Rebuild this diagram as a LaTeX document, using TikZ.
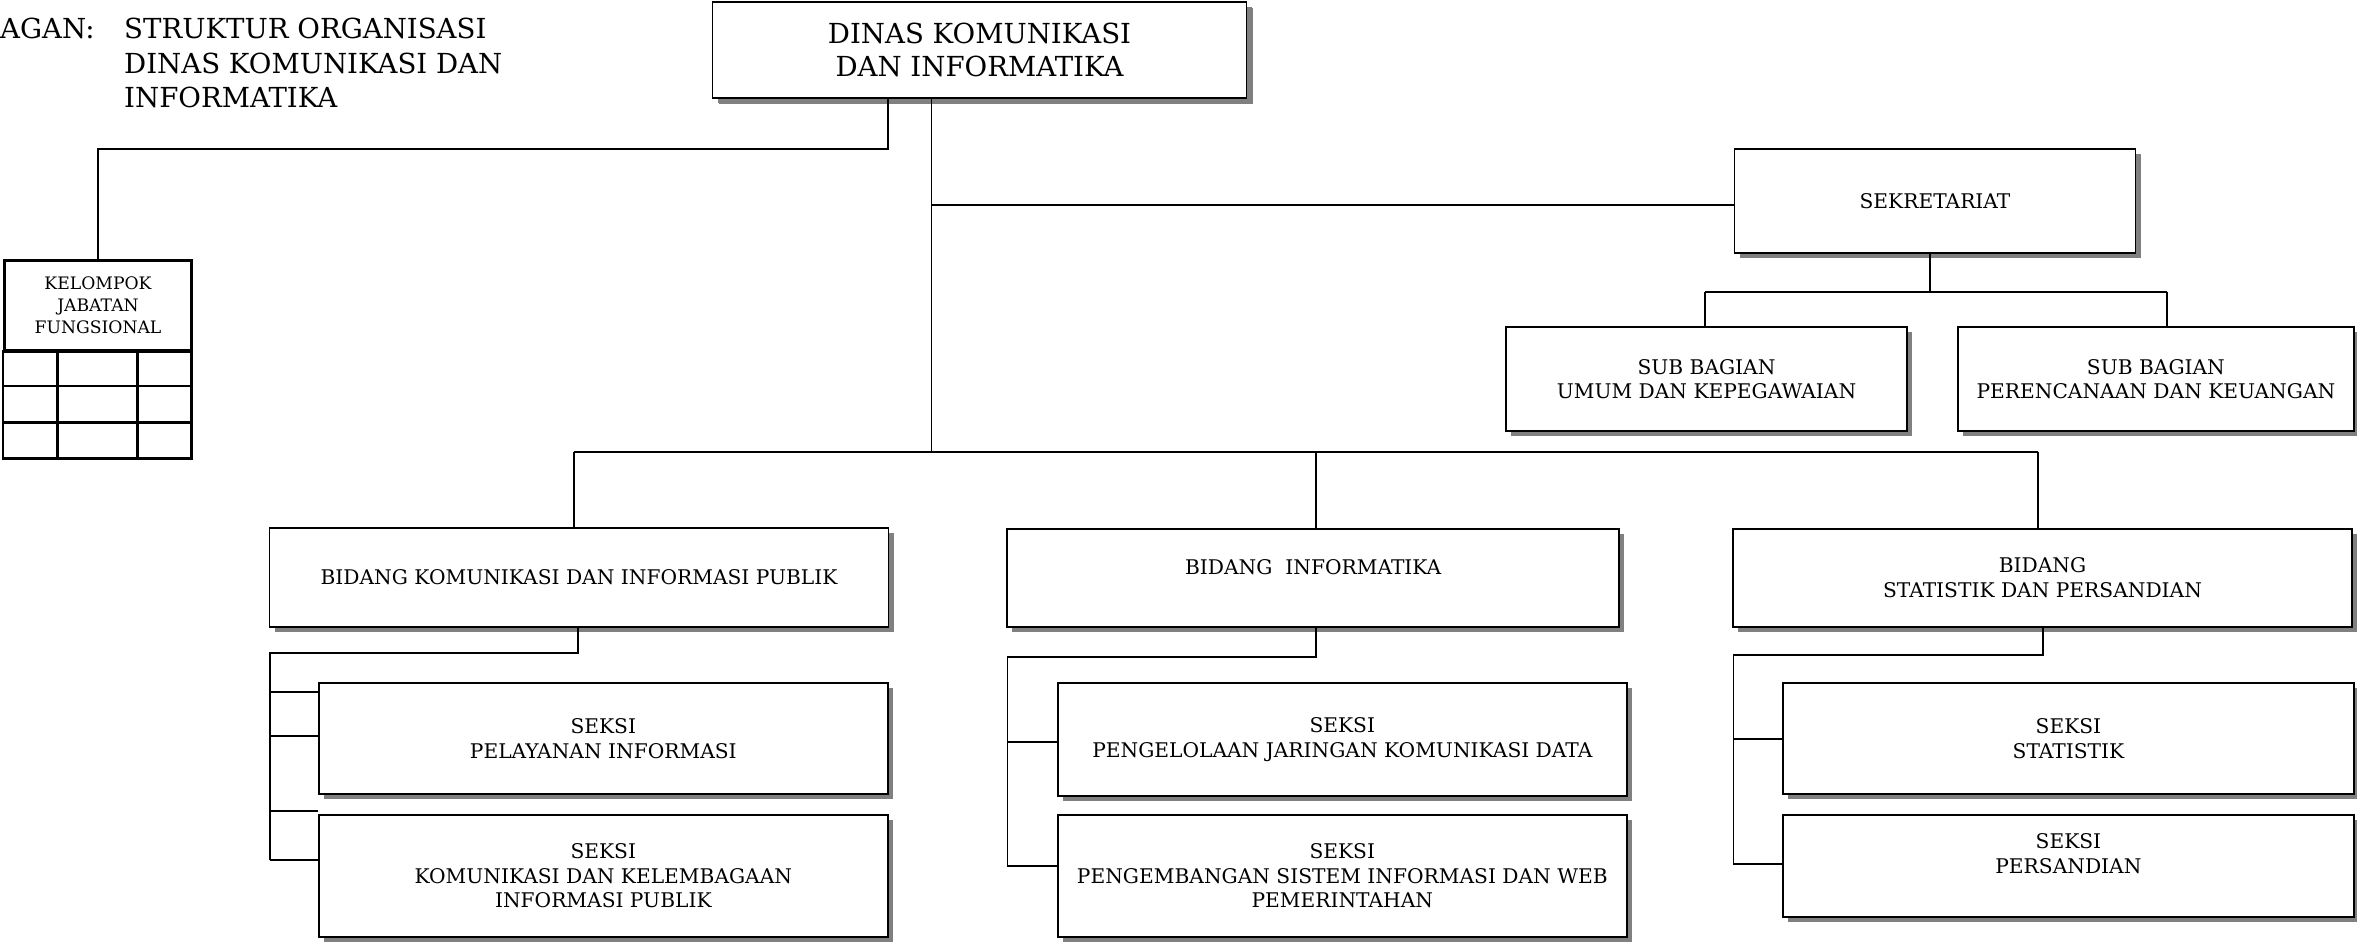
\documentclass[tikz,border=0pt]{standalone}
\usepackage{fontspec}
\setmainfont{DejaVu Serif}
\usetikzlibrary{shadows}
\begin{document}
\begin{tikzpicture}[x=1pt,y=-1pt,
  orgbox/.style={draw, line width=1.9pt, fill=white, inner sep=0pt, align=center,
    font=\fontsize{20.2}{24.5}\selectfont,
    drop shadow={shadow xshift=5pt,shadow yshift=-5pt,fill=black!50,opacity=1}},
  bigfont/.style={font=\fontsize{27.6}{34.5}\selectfont},
  conn/.style={line width=1.7pt},
  gridline/.style={line width=2.6pt}]
\useasboundingbox (0,0) rectangle (2357,943);

% title
\node[bigfont, anchor=west, inner sep=0pt] (bagan) at (0,28) {AGAN:};
\node[bigfont, anchor=west, inner sep=0pt, align=left] (title) at (124,63)
  {STRUKTUR ORGANISASI\\DINAS KOMUNIKASI DAN\\INFORMATIKA};

% boxes
\node[orgbox, font=\fontsize{27.6}{33.3}\selectfont, minimum width=534pt, minimum height=96.6pt,
  drop shadow={shadow xshift=6pt,shadow yshift=-6pt,fill=black!50,opacity=1}] (top) at (979.5,50)
  {DINAS KOMUNIKASI\\DAN INFORMATIKA};
\node[orgbox, minimum width=401pt, minimum height=103.4pt] (sekr) at (1935,201)
  {\raisebox{-4pt}{SEKRETARIAT}};
\node[orgbox, minimum width=400.4pt, minimum height=103.7pt] (subumum) at (1706.5,379.2)
  {SUB BAGIAN\\UMUM DAN KEPEGAWAIAN};
\node[orgbox, minimum width=395.4pt, minimum height=103.7pt] (subren) at (2155.9,379.2)
  {SUB BAGIAN\\PERENCANAAN DAN KEUANGAN};

\node[orgbox, minimum width=619pt, minimum height=98.4pt] (bkip) at (579,577.5)
  {BIDANG KOMUNIKASI DAN INFORMASI PUBLIK};
\node[orgbox, minimum width=611.6pt, minimum height=97.7pt] (binf) at (1313.2,577.8)
  {\raisebox{-3pt}{BIDANG\ \ INFORMATIKA}\\\mbox{}};
\node[orgbox, minimum width=618.3pt, minimum height=97.7pt] (bstat) at (2042.5,577.8)
  {\raisebox{-3pt}{BIDANG}\\\raisebox{-3pt}{STATISTIK DAN PERSANDIAN}};

\node[orgbox, minimum width=569.4pt, minimum height=110.7pt] (s1) at (603.3,738.7)
  {SEKSI\\PELAYANAN INFORMASI};
\node[orgbox, minimum width=569.4pt, minimum height=121.7pt] (s2) at (603.3,875.8)
  {SEKSI\\KOMUNIKASI DAN KELEMBAGAAN\\INFORMASI PUBLIK};
\node[orgbox, minimum width=569.4pt, minimum height=112.4pt] (s3) at (1342.3,739.5)
  {SEKSI\\PENGELOLAAN JARINGAN KOMUNIKASI DATA};
\node[orgbox, minimum width=569.4pt, minimum height=121.7pt] (s4) at (1342.3,875.8)
  {SEKSI\\PENGEMBANGAN SISTEM INFORMASI DAN WEB\\PEMERINTAHAN};
\node[orgbox, minimum width=570.8pt, minimum height=110.7pt] (s5) at (2068.4,738.7)
  {SEKSI\\STATISTIK};
\node[orgbox, minimum width=570.8pt, minimum height=101.7pt] (s6) at (2068.4,865.8)
  {SEKSI\\PERSANDIAN\\\mbox{}};

% kelompok jabatan fungsional
\node[draw, line width=2.6pt, inner sep=0pt, align=center, minimum width=187.4pt, minimum height=89.3pt,
  font=\fontsize{17.2}{21.7}\selectfont] (kel) at (98,305.3)
  {KELOMPOK\\JABATAN\\FUNGSIONAL};
\coordinate (kgbr) at (191.7,458.3);
\draw[gridline] (kel.south west) rectangle (kgbr);
\draw[gridline] (kel.west |- 0,386) -- (kel.east |- 0,386);
\draw[gridline] (kel.west |- 0,422.7) -- (kel.east |- 0,422.7);
\draw[gridline] (57.7,350) -- (57.7,458.3);
\draw[gridline] (137.7,350) -- (137.7,458.3);

% connectors from top
\coordinate (cL) at (888,149);
\draw[conn] (top.south -| cL) -- (cL) -| (kel.north);
\coordinate (tA) at (931.5,205);
\coordinate (tB) at (931.5,451.7);
\draw[conn] (top.south -| tA) -- (tB);
\draw[conn] (tA) -- (tA -| sekr.west);

% sekretariat
\coordinate (sj) at (1930,291.7);
\coordinate (sL) at (1704.8,291.7);
\coordinate (sR) at (2166.8,291.7);
\draw[conn] (sekr.south -| sj) -- (sj);
\draw[conn] (sL) -- (sR);
\draw[conn] (sL) -- (sL |- subumum.north);
\draw[conn] (sR) -- (sR |- subren.north);

% bus to bidang
\coordinate (b1) at (574,451.7);
\coordinate (b2) at (1316.3,451.7);
\coordinate (b3) at (2037.7,451.7);
\draw[conn] (b1) -- (b3);
\draw[conn] (b1) -- (b1 |- bkip.north);
\draw[conn] (b2) -- (b2 |- binf.north);
\draw[conn] (b3) -- (b3 |- bstat.north);

% bidang KIP
\coordinate (k1) at (578,652.7);
\coordinate (k2) at (270,652.7);
\coordinate (k3) at (270,860.3);
\draw[conn] (bkip.south -| k1) -- (k1) -- (k2) -- (k3);
\draw[conn] (270,692.3) -- (s1.west |- 0,692.3);
\draw[conn] (270,736) -- (s1.west |- 0,736);
\draw[conn] (270,810.7) -- (s2.west |- 0,810.7);
\draw[conn] (k3) -- (s2.west |- k3);

% bidang informatika
\coordinate (i1) at (1316,657.3);
\coordinate (i2) at (1007.4,657.3);
\coordinate (i3) at (1007.4,866);
\draw[conn] (binf.south -| i1) -- (i1) -- (i2) -- (i3);
\draw[conn] (1007.4,741.7) -- (s3.west |- 0,741.7);
\draw[conn] (i3) -- (s4.west |- i3);

% bidang statistik
\coordinate (t1) at (2043,655);
\coordinate (t2) at (1733.4,655);
\coordinate (t3) at (1733.4,864.3);
\draw[conn] (bstat.south -| t1) -- (t1) -- (t2) -- (t3);
\draw[conn] (1733.4,739.3) -- (s5.west |- 0,739.3);
\draw[conn] (t3) -- (s6.west |- t3);
\end{tikzpicture}
\end{document}
